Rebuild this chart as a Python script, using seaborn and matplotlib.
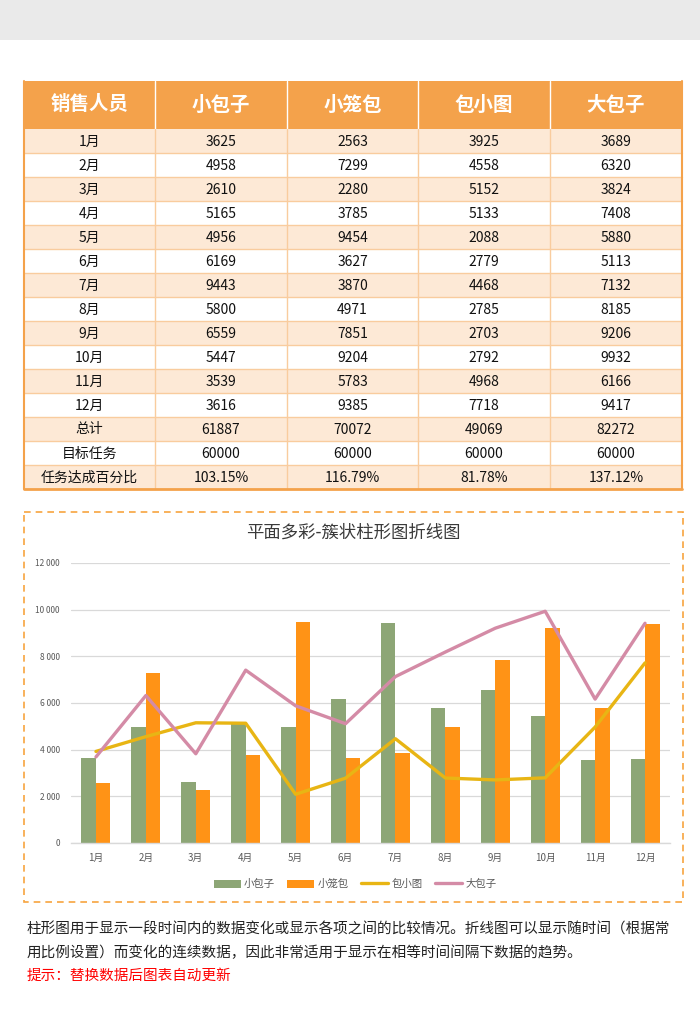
import matplotlib
matplotlib.use('Agg')
import matplotlib.pyplot as plt
import seaborn as sns
import pandas as pd
from decimal import Decimal, ROUND_HALF_UP
from matplotlib.patches import Rectangle, Patch
from matplotlib.lines import Line2D

# ---------------- data ----------------
months = [f"{i}月" for i in range(1, 13)]
series_names = ["小包子", "小笼包", "包小图", "大包子"]
xiaobaozi = [3625, 4958, 2610, 5165, 4956, 6169, 9443, 5800, 6559, 5447, 3539, 3616]
xiaolongbao = [2563, 7299, 2280, 3785, 9454, 3627, 3870, 4971, 7851, 9204, 5783, 9385]
baoxiaotu = [3925, 4558, 5152, 5133, 2088, 2779, 4468, 2785, 2703, 2792, 4968, 7718]
dabaozi = [3689, 6320, 3824, 7408, 5880, 5113, 7132, 8185, 9206, 9932, 6166, 9417]
targets = [60000, 60000, 60000, 60000]
header_label = "销售人员"
summary_labels = ["总计", "目标任务", "任务达成百分比"]
y_ticks = [0, 2000, 4000, 6000, 8000, 10000, 12000]
chart_title = "平面多彩-簇状柱形图折线图"
desc_lines = ["柱形图用于显示一段时间内的数据变化或显示各项之间的比较情况。折线图可以显示随时间（根据常",
              "用比例设置）而变化的连续数据，因此非常适用于显示在相等时间间隔下数据的趋势。"]
tip_text = "提示：替换数据后图表自动更新"

# ---------------- style ----------------
sns.set_theme(style="white")
plt.rcParams['font.family'] = ['Noto Sans CJK SC', 'DejaVu Sans']

GREEN = '#8DA676'
ORANGE = '#FF9316'
YELLOW = '#E8B514'
PINK = '#D48BA6'
HEADER = '#F4A24B'
PEACH = '#FDE9D6'
CELL_LINE = '#F9CC9E'

fig = plt.figure(figsize=(7, 10.3), dpi=100)
bg = fig.add_axes([0, 0, 1, 1], zorder=0)
bg.set_xlim(0, 700)
bg.set_ylim(1030, 0)
bg.axis('off')

# top gray band
bg.add_patch(Rectangle((0, 0), 700, 40, color='#EAEAEA', lw=0))

# ---------------- table ----------------
series_vals = [xiaobaozi, xiaolongbao, baoxiaotu, dabaozi]
totals = [sum(v) for v in series_vals]


def pct(t, g):
    d = (Decimal(t) * 100 / Decimal(g)).quantize(Decimal('0.01'), rounding=ROUND_HALF_UP)
    return f"{d}%"


rows = []
for i, m in enumerate(months):
    rows.append([m] + [str(v[i]) for v in series_vals])
rows.append([summary_labels[0]] + [str(t) for t in totals])
rows.append([summary_labels[1]] + [str(t) for t in targets])
rows.append([summary_labels[2]] + [pct(t, g) for t, g in zip(totals, targets)])

col_x = [24, 155, 287, 418, 550, 682]
top = 81
header_h = 48
row_h = 24
n_rows = len(rows)
bottom = top + header_h + n_rows * row_h

bg.add_patch(Rectangle((col_x[0], top), col_x[-1] - col_x[0], header_h, color=HEADER, lw=0))
headers = [header_label] + series_names
for j, h in enumerate(headers):
    cx = (col_x[j] + col_x[j + 1]) / 2
    bg.text(cx, top + header_h / 2, h, ha='center', va='center', color='white',
            fontsize=14, fontweight='bold')
for x in col_x[1:-1]:
    bg.plot([x, x], [top, top + header_h], color='white', lw=1)

for i, r in enumerate(rows):
    y0 = top + header_h + i * row_h
    if i % 2 == 0:
        bg.add_patch(Rectangle((col_x[0], y0), col_x[-1] - col_x[0], row_h, color=PEACH, lw=0))
    for j, txt in enumerate(r):
        cx = (col_x[j] + col_x[j + 1]) / 2
        bg.text(cx, y0 + row_h / 2 + 0.5, txt, ha='center', va='center', color='#111111', fontsize=10)
    if i > 0:
        bg.plot([col_x[0], col_x[-1]], [y0, y0], color=CELL_LINE, lw=1)
for x in col_x[1:-1]:
    bg.plot([x, x], [top + header_h, bottom], color=CELL_LINE, lw=1)
bg.plot([col_x[0], col_x[0]], [top, bottom], color=HEADER, lw=1.5)
bg.plot([col_x[-1], col_x[-1]], [top, bottom], color=HEADER, lw=1.5)
bg.plot([col_x[0], col_x[-1]], [bottom, bottom], color=HEADER, lw=2)

# ---------------- chart box ----------------
bg.add_patch(Rectangle((24, 512), 659, 390, fill=False, edgecolor='#F7A440', lw=1.2,
                       linestyle=(0, (4, 3))))
bg.text(353, 533, chart_title, ha='center', va='center', fontsize=12.5, color='#3A3A3A')

ax = fig.add_axes([71 / 700, (1030 - 843) / 1030, 599 / 700, 280 / 1030], zorder=2)
ax.patch.set_alpha(0)

df_bar = pd.DataFrame({
    'month': months * 2,
    'value': xiaobaozi + xiaolongbao,
    'series': [series_names[0]] * 12 + [series_names[1]] * 12,
})
sns.barplot(data=df_bar, x='month', y='value', hue='series', palette=[GREEN, ORANGE],
            width=0.58, gap=0, saturation=1, linewidth=0, legend=False, ax=ax, errorbar=None)

df_line = pd.DataFrame({
    'pos': list(range(12)) * 2,
    'value': baoxiaotu + dabaozi,
    'series': [series_names[2]] * 12 + [series_names[3]] * 12,
})
sns.lineplot(data=df_line, x='pos', y='value', hue='series', palette=[YELLOW, PINK],
             linewidth=2.4, sort=False, legend=False, ax=ax)

ax.set_xlim(-0.5, 11.5)
ax.set_ylim(0, 12000)
ax.set_xticks(range(12))
ax.set_xticklabels(months)
ax.set_yticks(y_ticks)
ax.set_yticklabels([f"{v:,}".replace(',', ' ') for v in y_ticks])
ax.set_xlabel('')
ax.set_ylabel('')
ax.grid(axis='y', color='#D9D9D9', lw=0.9)
ax.grid(axis='x', visible=False)
ax.set_axisbelow(True)
for s in ['top', 'right', 'left']:
    ax.spines[s].set_visible(False)
ax.spines['bottom'].set_color('#D9D9D9')
ax.spines['bottom'].set_linewidth(1)
ax.tick_params(axis='y', length=0, pad=8, labelsize=6, labelcolor='#595959')
ax.tick_params(axis='x', length=0, pad=7, labelsize=7, labelcolor='#595959')

handles = [Patch(facecolor=GREEN, edgecolor='none'), Patch(facecolor=ORANGE, edgecolor='none'),
           Line2D([0], [0], color=YELLOW, lw=2.4), Line2D([0], [0], color=PINK, lw=2.4)]
leg = fig.legend(handles, series_names, loc='center', bbox_to_anchor=(355 / 700, 1 - 884 / 1030),
                 ncol=4, frameon=False, fontsize=7.5, handlelength=2.6, handleheight=0.8,
                 columnspacing=1.2, handletextpad=0.3)
for t in leg.get_texts():
    t.set_color('#595959')

# ---------------- description ----------------
bg.text(27, 930, desc_lines[0], ha='left', va='center', fontsize=10.5, color='#222222')
bg.text(27, 953, desc_lines[1], ha='left', va='center', fontsize=10.5, color='#222222')
bg.text(27, 976, tip_text, ha='left', va='center', fontsize=10.5, color='#FF0000')

fig.savefig('out.png', dpi=100)
